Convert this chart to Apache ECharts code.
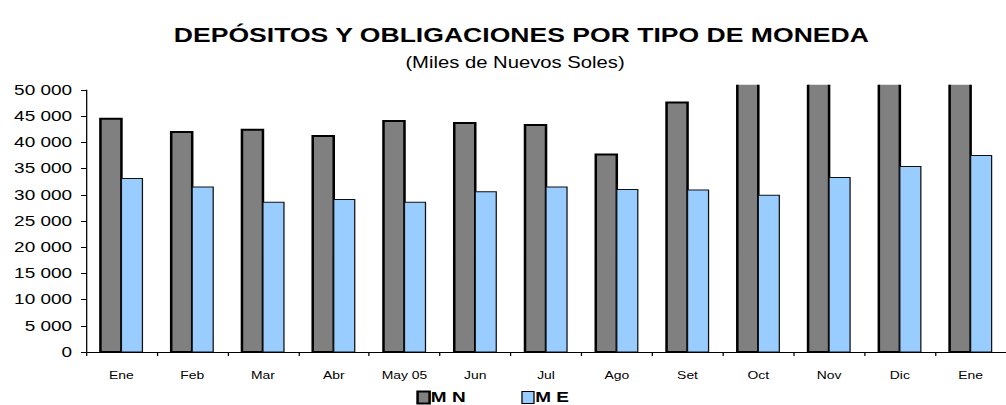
<!DOCTYPE html>
<html>
<head>
<meta charset="utf-8">
<script src="https://cdn.jsdelivr.net/npm/echarts@6/dist/echarts.min.js"></script>
<style>
html,body{margin:0;padding:0;background:#fff;overflow:hidden;}
#c{width:795px;height:405px;transform:scaleX(1.2654);transform-origin:0 0;}
</style>
</head>
<body>
<div id="c"></div>
<script>
var titleText = 'DEPÓSITOS Y OBLIGACIONES POR TIPO DE MONEDA';
var subtitleText = '(Miles de Nuevos Soles)';
var categories = ['Ene','Feb','Mar','Abr','May 05','Jun','Jul','Ago','Set','Oct','Nov','Dic','Ene'];
var seriesNames = ['M N','M E'];
var mnValues = [44500, 42000, 42400, 41200, 44100, 43700, 43300, 37700, 47600, 52500, 54500, 56500, 58500];
var meValues = [33100, 31500, 28600, 29100, 28600, 30600, 31500, 31000, 30900, 29900, 33300, 35400, 37500];
var yMin = 0, yMax = 50000, yStep = 5000;

function fmt(v){ return String(v).replace(/\B(?=(\d{3})+(?!\d))/g, ' '); }

var FONT = 'Liberation Sans, Arial, sans-serif';
var plotBottom = 53, plotTop = 90;
var clipMax = 51000;
var clipTop = 352 - (352 - plotTop) * clipMax / yMax;
var BW = 16.6;

function toPairs(arr){ return arr.map(function(v, i){ return [i, v]; }); }

function barRenderer(side, fill, stroke, lw){
  return function(params, api){
    var top = api.coord([api.value(0), api.value(1)]);
    var base = api.coord([api.value(0), 0]);
    var x0 = side < 0 ? top[0] - BW : top[0];
    return {
      type: 'rect',
      shape: {x: x0, y: top[1], width: BW, height: base[1] - top[1]},
      style: {fill: fill, stroke: stroke, lineWidth: lw}
    };
  };
}

var chart = echarts.init(document.getElementById('c'), null, {renderer:'svg'});
chart.setOption({
  animation: false,
  backgroundColor: '#fff',
  title: [
    {text: titleText, left: 407, top: 19, textAlign: 'center',
     textStyle: {fontFamily: FONT, fontWeight: 'bold', fontSize: 21, color: '#000'}},
    {text: subtitleText, left: 402, top: 49, textAlign: 'center',
     textStyle: {fontFamily: FONT, fontWeight: 'normal', fontSize: 16, color: '#000'}}
  ],
  legend: {
    top: 390, left: 329, padding: 0, itemWidth: 9.5, itemHeight: 12, itemGap: 44,
    textStyle: {fontFamily: FONT, fontWeight: 'bold', fontSize: 15, lineHeight: 14, color: '#000', padding: [0,0,0,-4]},
    data: [
      {name: seriesNames[0], icon: 'rect', itemStyle: {color:'#808080', borderColor:'#000', borderWidth:2}},
      {name: seriesNames[1], icon: 'rect', itemStyle: {color:'#99CCFF', borderColor:'#000', borderWidth:1}}
    ]
  },
  grid: [
    {left: 68, right: -9.5, top: plotTop, bottom: plotBottom, containLabel: false},
    {left: 68, right: -9.5, top: clipTop, bottom: plotBottom, containLabel: false}
  ],
  xAxis: [
    {type: 'category', data: categories, gridIndex: 0,
     axisLine: {lineStyle: {color: '#000', width: 1}},
     axisTick: {show: true, length: 4, lineStyle: {color:'#000'}},
     axisLabel: {fontFamily: FONT, fontSize: 11, color: '#000', margin: 18}},
    {type: 'category', data: categories, gridIndex: 1, show: false}
  ],
  yAxis: [
    {type: 'value', min: yMin, max: yMax, interval: yStep, gridIndex: 0,
     axisLine: {show: true, lineStyle: {color: '#000', width: 1}},
     axisTick: {show: true, length: 4, lineStyle: {color:'#000'}},
     splitLine: {show: false},
     axisLabel: {fontFamily: FONT, fontSize: 15, color: '#000', margin: 11, formatter: fmt}},
    {type: 'value', min: yMin, max: clipMax, gridIndex: 1, show: false, splitLine: {show: false}}
  ],
  series: [
    {name: seriesNames[0], type: 'custom', data: toPairs(mnValues), xAxisIndex: 1, yAxisIndex: 1,
     encode: {x: 0, y: 1}, clip: true, itemStyle: {color: '#808080'},
     renderItem: barRenderer(-1, '#808080', '#000', 2)},
    {name: seriesNames[1], type: 'custom', data: toPairs(meValues), xAxisIndex: 1, yAxisIndex: 1,
     encode: {x: 0, y: 1}, clip: true, itemStyle: {color: '#99CCFF'},
     renderItem: barRenderer(1, '#99CCFF', '#111', 1)}
  ]
});
</script>
</body>
</html>
